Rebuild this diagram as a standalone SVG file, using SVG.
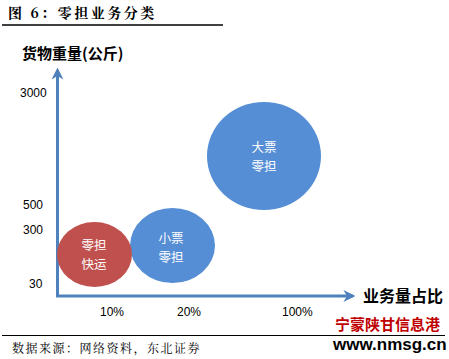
<svg xmlns="http://www.w3.org/2000/svg" width="449" height="359" viewBox="0 0 449 359">
<style>
.ttl{font-family:"Noto Serif CJK SC","Noto Sans CJK SC","Liberation Serif",serif;font-weight:bold;font-size:14px;fill:#000;letter-spacing:2.5px}
.lbl{font-family:"Liberation Sans","Noto Sans CJK SC",sans-serif;font-size:12px;fill:#000}
.axl{font-family:"Noto Sans CJK SC",sans-serif;font-weight:bold;font-size:15px;fill:#000}
.in{font-family:"Noto Sans CJK SC",sans-serif;font-size:12.5px;fill:#fff;text-anchor:middle}
.src{font-family:"Noto Serif CJK SC","Noto Sans CJK SC",serif;font-size:12px;fill:#000;letter-spacing:1.5px}
.ax{stroke:#4f81bd;stroke-width:3;fill:none}
</style>
<defs>
<marker id="ah" viewBox="0 0 10 10" refX="8" refY="5" markerWidth="4" markerHeight="4" orient="auto" markerUnits="strokeWidth">
<path d="M0,0 L10,5 L0,10 L3,5 Z" fill="#4f81bd"/>
</marker>
</defs>
<text class="ttl" x="8" y="18">图 6：零担业务分类</text>
<line x1="2" y1="25" x2="223" y2="25" stroke="#000" stroke-width="1.5"/>
<text class="axl" x="22" y="59">货物重量(公斤)</text>
<g id="ticks" class="lbl">
<text x="20" y="97">3000</text>
<text x="23" y="209">500</text>
<text x="23" y="234">300</text>
<text x="29" y="288">30</text>
<text x="100" y="316">10%</text>
<text x="177" y="316">20%</text>
<text x="282" y="316">100%</text>
</g>
<g id="connectors">
<path class="ax" d="M57.5,297 L57.5,70" marker-end="url(#ah)"/>
<path class="ax" d="M56,296 L353,296" marker-end="url(#ah)"/>
</g>
<text class="axl" x="363" y="302" style="font-size:16px">业务量占比</text>
<g id="n_big">
<ellipse cx="264" cy="156" rx="57" ry="54" fill="#558ed5"/>
<text class="in"><tspan x="264" y="152">大票</tspan><tspan x="264" y="171">零担</tspan></text>
</g>
<g id="n_small">
<ellipse cx="172.5" cy="245.5" rx="42.5" ry="37.5" fill="#558ed5"/>
<text class="in"><tspan x="171" y="243">小票</tspan><tspan x="171" y="262">零担</tspan></text>
</g>
<g id="n_fast">
<ellipse cx="94.5" cy="254.5" rx="37.5" ry="32.5" fill="#c0504d"/>
<text class="in"><tspan x="94" y="250">零担</tspan><tspan x="94" y="269">快运</tspan></text>
</g>
<line x1="2" y1="335.5" x2="445" y2="335.5" stroke="#000" stroke-width="1.2"/>
<text class="src" x="12" y="353">数据来源：网络资料，东北证券</text>
<text x="335" y="330" font-family="Noto Sans CJK SC,sans-serif" font-weight="bold" font-size="15" fill="#c00000">宁蒙陕甘信息港</text>
<text x="333" y="350" font-family="Liberation Sans,sans-serif" font-weight="bold" font-size="17" fill="#000">www.nmsg.cn</text>
</svg>
